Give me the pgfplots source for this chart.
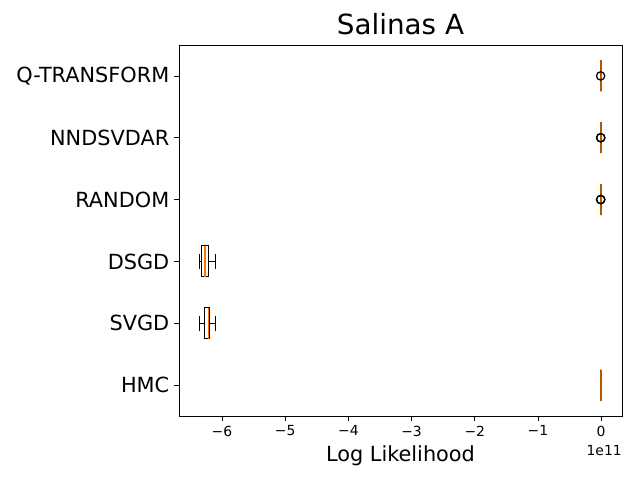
\documentclass[border=0pt]{standalone}
\usepackage{fontspec}
\setmainfont{DejaVu Sans}
\usepackage{pgfplots}
\pgfplotsset{compat=1.18}
\usepgfplotslibrary{statistics}
\begin{document}
\begin{tikzpicture}
\begin{axis}[
  at={(0,0)}, anchor=south west,
  scale only axis, width=318.96pt, height=267.12pt,
  xmin=-6.68, xmax=0.33, ymin=0.5, ymax=6.5,
  xtick={-6,-5,-4,-3,-2,-1,0},
  xticklabels={−6,−5,−4,−3,−2,−1,0},
  ytick={1,2,3,4,5,6},
  yticklabels={HMC,SVGD,DSGD,RANDOM,NNDSVDAR,Q-TRANSFORM},
  yticklabel style={font=\fontsize{15}{18}\selectfont},
  xticklabel style={font=\fontsize{10}{12}\selectfont},
  tick align=outside, major tick length=3.5pt,
  xtick pos=bottom, ytick pos=left,
  tick style={black, line width=0.6pt},
  axis line style={line width=0.6pt},
  title={Salinas A},
  title style={font=\fontsize{20}{24}\selectfont, yshift=-2pt},
  xlabel={Log Likelihood},
  xlabel style={font=\fontsize{15}{18}\selectfont, yshift=0pt},
  boxplot/box extend=0.5,
  boxplot/whisker extend=0.25,
  every boxplot/.style={draw=black, line width=0.7pt},
  boxplot/every median/.style={draw=orange!90!red, line width=1pt},
  clip=false,
  near/.style={black, solid, mark=o, mark size=3pt, mark options={black, solid, line width=0.9pt},
    boxplot/every median/.style={draw=orange!70!black, line width=1.2pt}},
  far/.style={black, solid, mark=o, mark size=3pt, mark options={black, solid, line width=0.9pt}},
]
\addplot+[near,
  boxplot prepared={lower whisker=-0.004, lower quartile=-0.004, median=-0.004,
  upper quartile=-0.004, upper whisker=-0.004, draw position=1}] coordinates {};
\addplot+[far,
  boxplot prepared={lower whisker=-6.35, lower quartile=-6.27, median=-6.21,
  upper quartile=-6.19, upper whisker=-6.11, draw position=2}] coordinates {};
\addplot+[far,
  boxplot prepared={lower whisker=-6.35, lower quartile=-6.32, median=-6.27,
  upper quartile=-6.22, upper whisker=-6.11, draw position=3}] coordinates {};
\addplot+[near,
  boxplot prepared={lower whisker=-0.004, lower quartile=-0.004, median=-0.004,
  upper quartile=-0.004, upper whisker=-0.004, draw position=4}] coordinates {(0,-0.008) (0,-0.006)};
\addplot+[near,
  boxplot prepared={lower whisker=-0.004, lower quartile=-0.004, median=-0.004,
  upper quartile=-0.004, upper whisker=-0.004, draw position=5}] coordinates {(0,-0.008) (0,-0.005)};
\addplot+[near,
  boxplot prepared={lower whisker=-0.004, lower quartile=-0.004, median=-0.004,
  upper quartile=-0.004, upper whisker=-0.004, draw position=6}] coordinates {(0,-0.008)};
\node[anchor=north east, font=\fontsize{10}{12}\selectfont, inner sep=0pt] at (rel axis cs:1,0) [yshift=-21pt] {1e11};
\end{axis}
\useasboundingbox (-128.88pt,-46.08pt) rectangle (331.92pt,299.52pt);
\end{tikzpicture}
\end{document}
